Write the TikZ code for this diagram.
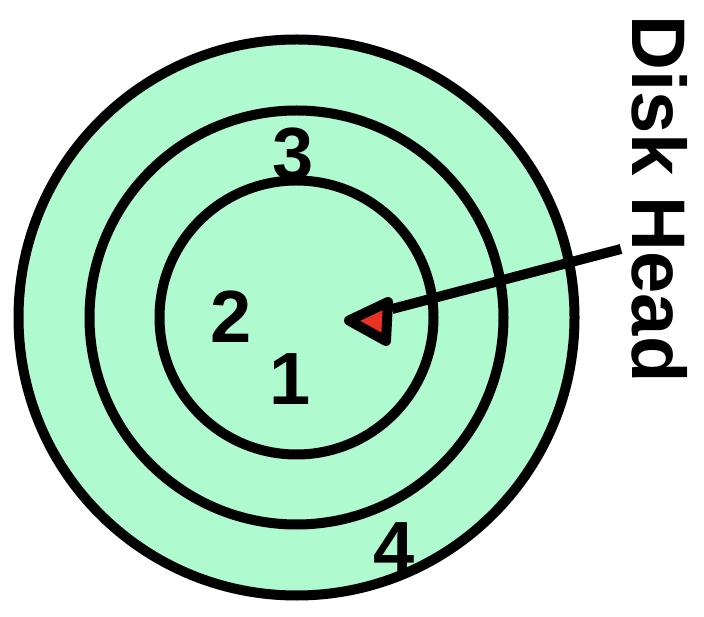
\documentclass[tikz,border=0pt]{standalone}
\usepackage{fontspec}
\setmainfont{Liberation Sans}
\usepackage{xcolor}
\usepackage{tikz}
\usetikzlibrary{shapes.geometric, positioning, calc}
\definecolor{plattergreen}{RGB}{176, 250, 208}
\definecolor{headred}{RGB}{232, 50, 38}

\begin{document}
\begin{tikzpicture}[
  x=1pt, y=1pt,
  font=\fontsize{74}{74}\selectfont\bfseries,
  track/.style={
    draw, circle, line width=10pt,
    fill=plattergreen, inner sep=0pt
  },
  num/.style={anchor=base, inner sep=0pt},
  headline/.style={line width=10pt},
  headtip/.style={fill=headred, draw, line width=10pt, line join=round}
]
\useasboundingbox (0,0) rectangle (704,616);
\coordinate (c) at (296.5,298.5);
\node[track, minimum size=556pt] (outer) at (c) {};
\node[track, minimum size=414pt] (middle) at (c) {};
\node[track, minimum size=274pt] (inner) at (c) {};
\node[num] (n3) at (293,436) {3};
\node[num] (n2) at (231,273) {2};
\node[num] (n1) at (290,211) {1};
\node[num] (n4) at (394,43) {4};
\node[font=\fontsize{76}{76}\selectfont\bfseries, rotate=-90,
  anchor=base west, inner sep=0pt] (label) at (632,601) {Disk Head};
\coordinate (arm) at (621,367);
\coordinate (neck) at (392,307);
\coordinate (tip) at (349,295.5);
\coordinate (barbtop) at (388,314);
\coordinate (barbbot) at (386,275);
\draw[headline] (arm) -- (neck);
\path[headtip] (tip) -- (barbtop) -- (barbbot) -- cycle;
\end{tikzpicture}
\end{document}
